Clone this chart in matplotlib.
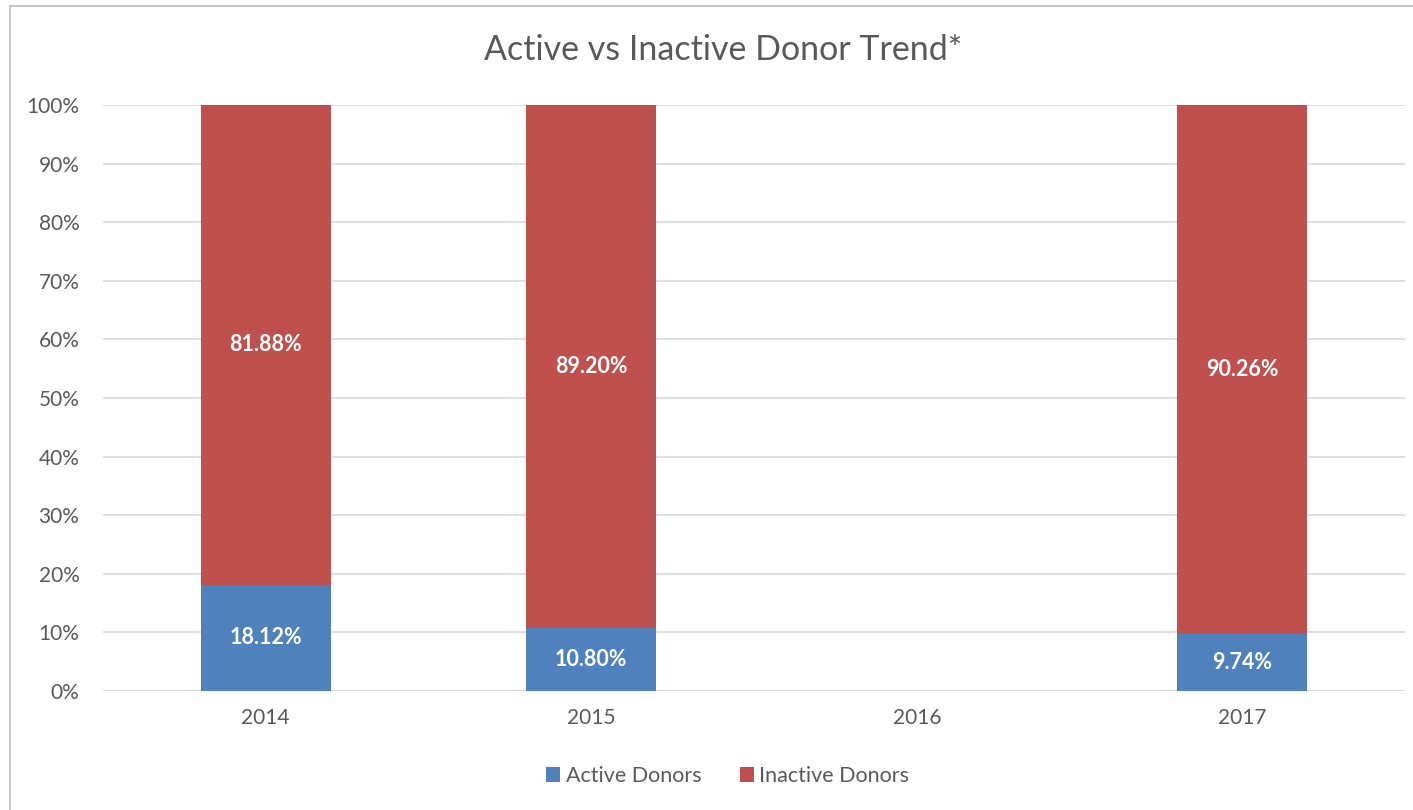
import numpy as np
import matplotlib
matplotlib.use('Agg')
import matplotlib.pyplot as plt
from matplotlib.patches import Rectangle

years = ['2014', '2015', '2016', '2017']
active = [18.12, 10.80, np.nan, 9.74]
inactive = [81.88, 89.20, np.nan, 90.26]
yticks = [0, 10, 20, 30, 40, 50, 60, 70, 80, 90, 100]

blue = '#4F81BD'
red = '#C0504D'
txt = '#595959'

plt.rcParams['font.family'] = ['Lato', 'DejaVu Sans']

fig = plt.figure(figsize=(14.13, 8.10), dpi=100)
ax = fig.add_axes([103/1413, 1 - 691/810, (1405 - 103)/1413, (691 - 105)/810])

# chart border
fig.patches.append(Rectangle((10/1413, -0.1), 1.2, 1 - 6/810 + 0.1,
                             transform=fig.transFigure, fill=False,
                             edgecolor='#C8C8C8', linewidth=1.5))

x = np.arange(len(years))
a = np.nan_to_num(active)
b = np.nan_to_num(inactive)
ax.bar(x, a, width=0.4, color=blue, label='Active Donors', zorder=3)
ax.bar(x, b, width=0.4, bottom=a, color=red, label='Inactive Donors', zorder=3)

for i in range(len(years)):
    if np.isnan(active[i]):
        continue
    ax.text(x[i], active[i] / 2, '%.2f%%' % active[i], ha='center', va='center',
            color='white', fontsize=15.5, fontweight='bold', zorder=4)
    ax.text(x[i], active[i] + inactive[i] / 2, '%.2f%%' % inactive[i], ha='center',
            va='center', color='white', fontsize=15.5, fontweight='bold', zorder=4)

ax.set_xlim(-0.5, len(years) - 0.5)
ax.set_ylim(0, 100)
ax.set_yticks(yticks)
ax.set_yticklabels(['%d%%' % v for v in yticks])
ax.set_xticks(x)
ax.set_xticklabels(years)
ax.tick_params(axis='both', length=0, labelsize=15, colors=txt)
ax.tick_params(axis='y', pad=17)
ax.tick_params(axis='x', pad=12)
ax.grid(axis='y', color='#D9D9D9', linewidth=1.2, zorder=0)
for s in ax.spines.values():
    s.set_visible(False)
ax.axhline(0, color='#D9D9D9', linewidth=1.5, zorder=2)

fig.text(0.512, 1 - 50/810, 'Active vs Inactive Donor Trend*', ha='center', va='center',
         fontsize=24.5, color=txt)

fig.legend(loc='center', bbox_to_anchor=(0.515, 1 - 776/810), ncol=2, frameon=False,
           fontsize=15.5, labelcolor=txt, handlelength=0.65, handleheight=0.65,
           handletextpad=0.25, columnspacing=1.8)

fig.savefig('out.png', dpi=100)
